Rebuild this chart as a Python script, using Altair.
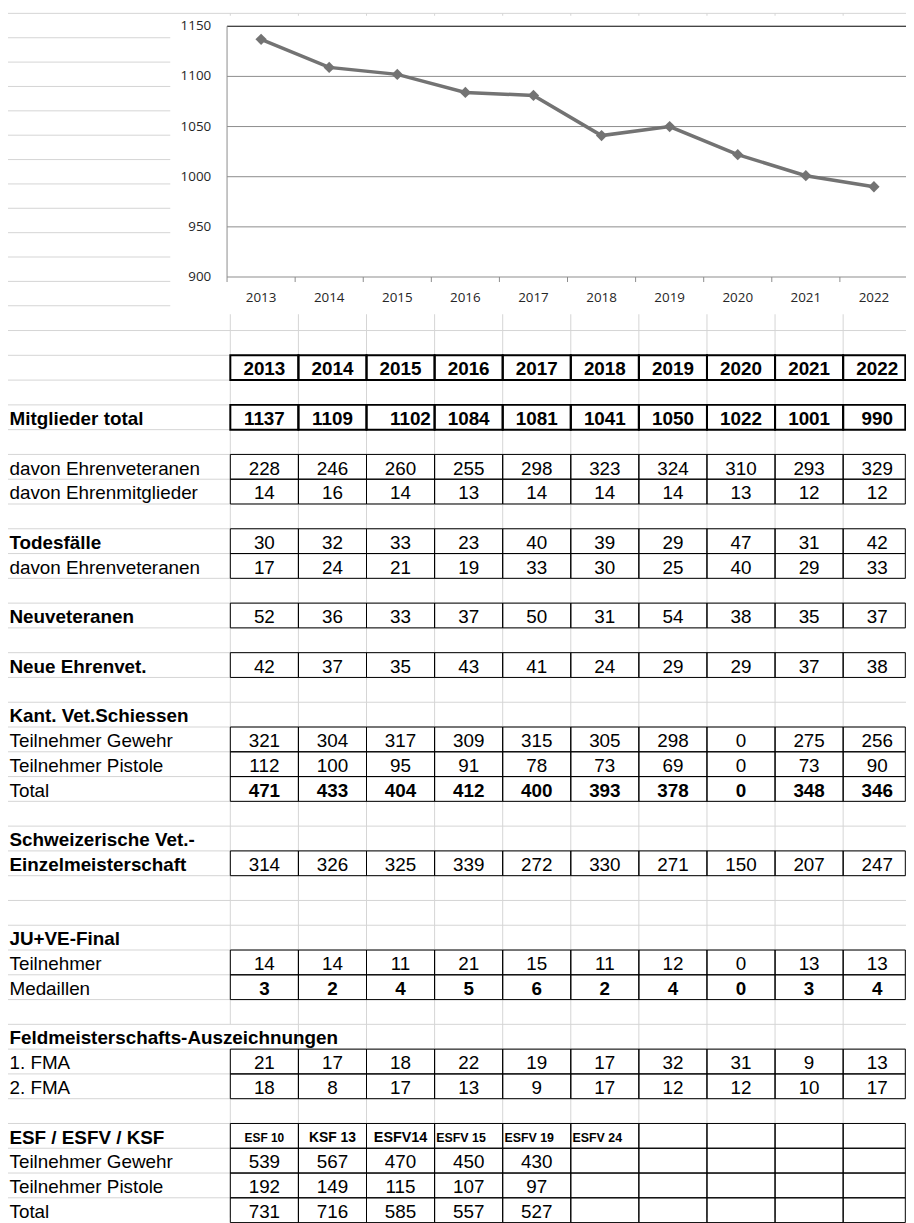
import altair as alt
import pandas as pd

# ---------------- data ----------------
YEARS = [2013, 2014, 2015, 2016, 2017, 2018, 2019, 2020, 2021, 2022]
MITGLIEDER = [1137, 1109, 1102, 1084, 1081, 1041, 1050, 1022, 1001, 990]
EHRENVET = [228, 246, 260, 255, 298, 323, 324, 310, 293, 329]
EHRENMITGL = [14, 16, 14, 13, 14, 14, 14, 13, 12, 12]
TODESFAELLE = [30, 32, 33, 23, 40, 39, 29, 47, 31, 42]
TOD_EHRENVET = [17, 24, 21, 19, 33, 30, 25, 40, 29, 33]
NEUVET = [52, 36, 33, 37, 50, 31, 54, 38, 35, 37]
NEUE_EHRENVET = [42, 37, 35, 43, 41, 24, 29, 29, 37, 38]
KANT_GEWEHR = [321, 304, 317, 309, 315, 305, 298, 0, 275, 256]
KANT_PISTOLE = [112, 100, 95, 91, 78, 73, 69, 0, 73, 90]
KANT_TOTAL = [471, 433, 404, 412, 400, 393, 378, 0, 348, 346]
EINZELMEISTER = [314, 326, 325, 339, 272, 330, 271, 150, 207, 247]
JUVE_TEILN = [14, 14, 11, 21, 15, 11, 12, 0, 13, 13]
JUVE_MEDAILLEN = [3, 2, 4, 5, 6, 2, 4, 0, 3, 4]
FMA1 = [21, 17, 18, 22, 19, 17, 32, 31, 9, 13]
FMA2 = [18, 8, 17, 13, 9, 17, 12, 12, 10, 17]
ESF_NAMES = ["ESF 10", "KSF 13", "ESFV14", "ESFV 15", "ESFV 19", "ESFV 24"]
ESF_GEWEHR = [539, 567, 470, 450, 430]
ESF_PISTOLE = [192, 149, 115, 107, 97]
ESF_TOTAL = [731, 716, 585, 557, 527]
Y_TICKS = [900, 950, 1000, 1050, 1100, 1150]

# ---------------- table structure (row index, label, label bold, values, value style, border) ----------------
ROWS = [
    (14, "", False, YEARS, "bold", "thick"),
    (16, "Mitglieder total", True, MITGLIEDER, "bold", "thick"),
    (18, "davon Ehrenveteranen", False, EHRENVET, "normal", "thin"),
    (19, "davon Ehrenmitglieder", False, EHRENMITGL, "normal", "thin"),
    (21, "Todesfälle", True, TODESFAELLE, "normal", "thin"),
    (22, "davon Ehrenveteranen", False, TOD_EHRENVET, "normal", "thin"),
    (24, "Neuveteranen", True, NEUVET, "normal", "thin"),
    (26, "Neue Ehrenvet.", True, NEUE_EHRENVET, "normal", "thin"),
    (28, "Kant. Vet.Schiessen", True, [], "normal", None),
    (29, "Teilnehmer Gewehr", False, KANT_GEWEHR, "normal", "thin"),
    (30, "Teilnehmer Pistole", False, KANT_PISTOLE, "normal", "thin"),
    (31, "Total", False, KANT_TOTAL, "bold", "thin"),
    (33, "Schweizerische Vet.-", True, [], "normal", None),
    (34, "Einzelmeisterschaft", True, EINZELMEISTER, "normal", "thin"),
    (37, "JU+VE-Final", True, [], "normal", None),
    (38, "Teilnehmer", False, JUVE_TEILN, "normal", "thin"),
    (39, "Medaillen", False, JUVE_MEDAILLEN, "bold", "thin"),
    (41, "Feldmeisterschafts-Auszeichnungen", True, [], "normal", None),
    (42, "1. FMA", False, FMA1, "normal", "thin"),
    (43, "2. FMA", False, FMA2, "normal", "thin"),
    (45, "ESF / ESFV / KSF", True, ESF_NAMES, "esf", "thin"),
    (46, "Teilnehmer Gewehr", False, ESF_GEWEHR, "normal", "thin"),
    (47, "Teilnehmer Pistole", False, ESF_PISTOLE, "normal", "thin"),
    (48, "Total", False, ESF_TOTAL, "normal", "thin"),
]
OVERFLOW_ROWS = [41]
RIGHT_ALIGNED = [(16, 2)]
LEFT_ALIGNED = [(45, 3), (45, 4), (45, 5)]
ESF_SIZES = [12, 14, 14.5, 12.5, 12.5, 12.5]

# ---------------- layout (column units: one year column = 1) ----------------
U_MIN, U_MAX = -3.265, 9.923
U_SHEET_LEFT = -3.272
U_LABEL = -3.243
U_RIGHT = 9.913
CHART_U0 = -0.048
BOX = dict(u0=-0.882, u1=10.2, r0=0.10, r1=12.34)
FS = 19
TFONT = "Liberation Sans"
CFONT = "Open Sans"
GRID = "#d4d4d4"
CGRID = "#8c8c8c"
LINE = "#737373"

U = alt.Scale(domain=[U_MIN, U_MAX], nice=False, zero=False)
R = alt.Scale(domain=[0, 12, 48.8], range=[0, 295, 1215], nice=False, zero=False)
V = alt.Scale(domain=[900, 1150], range=[266, 13], nice=False, zero=False)


def xq(f):
    return alt.X(f, type="quantitative", scale=U, axis=None)


layers = []

# spreadsheet gridlines
hgrid = pd.DataFrame({"r": list(range(0, 49))})
hgrid["u0"] = U_SHEET_LEFT
hgrid["u1"] = U_MAX + 0.2
layers.append(alt.Chart(hgrid).mark_rule(color=GRID, strokeWidth=1).encode(
    x=xq("u0"), x2="u1:Q", y=alt.Y("r:Q", scale=R, axis=None)))

vsegs = []
for b in [U_SHEET_LEFT] + list(range(0, 10)):
    if b == 0:
        start = 0
        for orow in OVERFLOW_ROWS:
            vsegs.append((b, start, orow))
            start = orow + 1
        vsegs.append((b, start, 48.8))
    else:
        vsegs.append((b, 0, 48.8))
vgrid = pd.DataFrame(vsegs, columns=["u", "r0", "r1"])
layers.append(alt.Chart(vgrid).mark_rule(color=GRID, strokeWidth=1).encode(
    x=xq("u"), y=alt.Y("r0:Q", scale=R, axis=None), y2="r1:Q"))

# chart object background
box = pd.DataFrame([BOX])
layers.append(alt.Chart(box).mark_rect(color="white").encode(
    x=xq("u0"), x2="u1:Q", y=alt.Y("r0:Q", scale=R, axis=None), y2="r1:Q"))

# chart gridlines
cg = pd.DataFrame({"v": Y_TICKS})
cg["u0"] = CHART_U0
cg["u1"] = U_MAX + 0.2
top = max(Y_TICKS)
layers.append(alt.Chart(cg).mark_rule(strokeWidth=1).encode(
    x=xq("u0"), x2="u1:Q", y=alt.Y("v:Q", scale=V, axis=None),
    color=alt.condition(alt.datum.v == top, alt.value("#000000"), alt.value(CGRID))))

# chart y axis line
ax = pd.DataFrame({"u": [CHART_U0], "v0": [min(Y_TICKS)], "v1": [top]})
layers.append(alt.Chart(ax).transform_calculate(vb="datum.v0 - 5").mark_rule(color=CGRID, strokeWidth=1).encode(
    x=xq("u"), y=alt.Y("vb:Q", scale=V, axis=None), y2="v1:Q"))

# category tick marks
tk = pd.DataFrame({"k": list(range(1, len(YEARS)))})
tk["v"] = min(Y_TICKS)
layers.append(alt.Chart(tk).transform_calculate(
    u=f"{CHART_U0} + datum.k", vb="datum.v - 5").mark_rule(color=CGRID, strokeWidth=1).encode(
    x=xq("u:Q"), y=alt.Y("v:Q", scale=V, axis=None), y2="vb:Q"))

# y labels
yl = pd.DataFrame({"v": Y_TICKS})
yl["u"] = CHART_U0
layers.append(alt.Chart(yl).mark_text(align="right", baseline="middle", dx=-16, font=CFONT,
                                      fontSize=13.5, color="#262626").encode(
    x=xq("u"), y=alt.Y("v:Q", scale=V, axis=None), text="v:N"))

# line data
ld = pd.DataFrame({"year": YEARS, "val": MITGLIEDER, "k": list(range(len(YEARS)))})
ld["base"] = min(Y_TICKS)
ld_chart = alt.Chart(ld).transform_calculate(u=f"{CHART_U0} + datum.k + 0.5")

# x labels
layers.append(ld_chart.mark_text(align="center", baseline="middle", dy=21, font=CFONT,
                                 fontSize=13.5, color="#262626").encode(
    x=xq("u:Q"), y=alt.Y("base:Q", scale=V, axis=None), text="year:N"))

layers.append(ld_chart.mark_line(color=LINE, strokeWidth=3.5).encode(
    x=xq("u:Q"), y=alt.Y("val:Q", scale=V, axis=None)))
layers.append(ld_chart.mark_point(shape="diamond", size=130, filled=True, opacity=1, color=LINE).encode(
    x=xq("u:Q"), y=alt.Y("val:Q", scale=V, axis=None)))

# cell borders
cells = []
for row, label, lb, vals, style, border in ROWS:
    if border:
        for c in range(10):
            cells.append({"u0": c, "u1": min(c + 1, U_RIGHT), "r0": row, "r1": row + 1, "b": border})
cells = pd.DataFrame(cells)
for kind, sw in [("thin", 1), ("thick", 2)]:
    sub = cells[cells["b"] == kind]
    layers.append(alt.Chart(sub).mark_rect(fillOpacity=0, stroke="black", strokeWidth=sw).encode(
        x=xq("u0"), x2="u1:Q", y=alt.Y("r0:Q", scale=R, axis=None), y2="r1:Q"))

# texts
texts = []
for row, label, lb, vals, style, border in ROWS:
    if label:
        texts.append({"u": U_LABEL, "r": row + 0.81, "txt": label,
                      "al": "left", "wt": "bold" if lb else "normal", "fs": FS})
    for c, v in enumerate(vals):
        if (row, c) in RIGHT_ALIGNED:
            al, u = "right", c + 1 - 0.055
        elif (row, c) in LEFT_ALIGNED:
            al, u = "left", c + 0.025
        else:
            al, u = "center", c + 0.5
        if style == "esf":
            texts.append({"u": u, "r": row + 0.75, "txt": str(v), "al": al,
                          "wt": "bold", "fs": ESF_SIZES[c]})
        else:
            texts.append({"u": u, "r": row + 0.81, "txt": str(v), "al": al,
                          "wt": "bold" if style == "bold" else "normal", "fs": FS})
texts = pd.DataFrame(texts)
for al in ["left", "center", "right"]:
    for wt in ["normal", "bold"]:
        sub = texts[(texts["al"] == al) & (texts["wt"] == wt)]
        if len(sub) == 0:
            continue
        layers.append(alt.Chart(sub).mark_text(align=al, baseline="alphabetic", font=TFONT,
                                               fontWeight=wt, color="black").encode(
            x=xq("u"), y=alt.Y("r:Q", scale=R, axis=None), text="txt:N",
            size=alt.Size("fs:Q", scale=None, legend=None)))

chart = alt.layer(*layers).resolve_scale(y="independent").properties(
    width=906, height=1215,
    autosize=alt.AutoSizeParams(type="none"),
    padding=0,
    background="white",
).configure_view(stroke=None)

chart.save("out.html", embed_options={"renderer": "svg", "actions": False})
